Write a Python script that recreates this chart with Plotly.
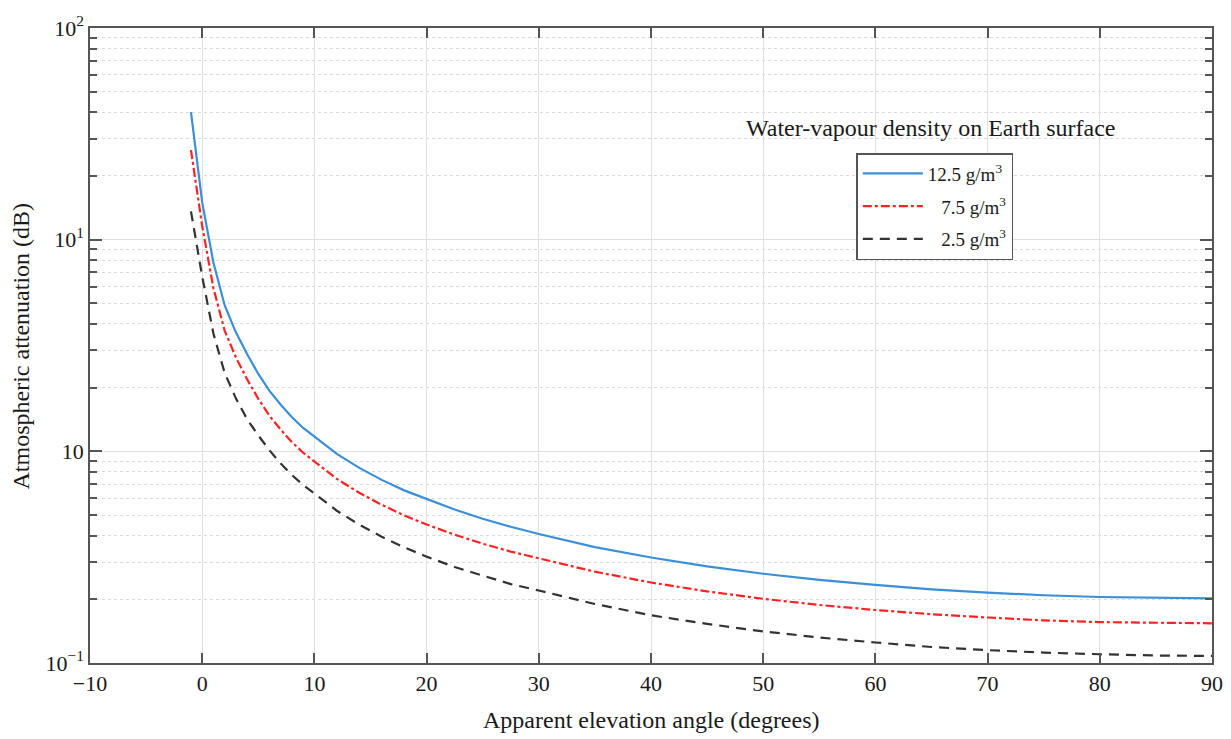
import plotly.graph_objects as go

# Apparent elevation angle (degrees)
angles = [-1, 0, 1, 2, 3, 4, 5, 6, 7, 8, 9, 10, 12, 14, 16, 18, 20, 22.5, 25, 27.5, 30,
          35, 40, 45, 50, 55, 60, 65, 70, 75, 80, 85, 90]

# Atmospheric attenuation (dB) for each water-vapour density
att_12_5 = [40.0, 15.0, 7.8, 4.9, 3.65, 2.88, 2.32, 1.93, 1.66, 1.45, 1.29, 1.17,
            0.972, 0.835, 0.733, 0.654, 0.596, 0.531, 0.480, 0.440, 0.407,
            0.353, 0.315, 0.286, 0.264, 0.247, 0.234, 0.223, 0.215, 0.209, 0.205, 0.203, 0.202]
att_7_5 = [26.5, 11.6, 5.9, 3.72, 2.78, 2.19, 1.77, 1.47, 1.265, 1.105, 0.985, 0.893,
           0.741, 0.637, 0.559, 0.498, 0.451, 0.404, 0.366, 0.336, 0.312,
           0.270, 0.240, 0.218, 0.201, 0.188, 0.178, 0.170, 0.164, 0.159, 0.156, 0.155, 0.154]
att_2_5 = [13.6, 6.7, 3.6, 2.35, 1.78, 1.42, 1.19, 1.01, 0.875, 0.772, 0.694, 0.63,
           0.524, 0.450, 0.395, 0.352, 0.318, 0.284, 0.258, 0.236, 0.220,
           0.190, 0.168, 0.153, 0.141, 0.132, 0.125, 0.119, 0.115, 0.112, 0.110, 0.1085, 0.108]

series_names = ["12.5 g/m<sup>3</sup>", "\u2007\u20097.5 g/m<sup>3</sup>", "\u2007\u20092.5 g/m<sup>3</sup>"]

x_ticks = [-10, 0, 10, 20, 30, 40, 50, 60, 70, 80, 90]
x_ticktext = ["\u221210", "0", "10", "20", "30", "40", "50", "60", "70", "80", "90"]
y_ticks = [0.1, 1, 10, 100]
y_ticktext = ["10<sup>\u22121</sup>", "10", "10<sup>1</sup>", "10<sup>2</sup>"]

FONT = "Liberation Serif, Times New Roman, serif"
TXT = "#1a1a1a"

fig = go.Figure()
fig.add_trace(go.Scatter(x=angles, y=att_12_5, mode="lines", name=series_names[0], legendgroup="a",
                         line=dict(color="#3a8fd8", width=2.2)))
fig.add_trace(go.Scatter(x=angles, y=att_7_5, mode="lines", name=series_names[1], legendgroup="b",
                         line=dict(color="#ff2222", width=2.2, dash="dashdot")))
fig.add_trace(go.Scatter(x=angles, y=att_2_5, mode="lines", name=series_names[2], legendgroup="c",
                         line=dict(color="#333333", width=2.2, dash="10px,7px")))

axis_common = dict(
    showline=True, linecolor="#555555", linewidth=1.5, mirror="allticks",
    ticks="inside", tickcolor="#555555", tickwidth=1.5,
    tickfont=dict(family=FONT, size=22, color=TXT),
    zeroline=False, automargin=False,
)

fig.update_xaxes(
    **axis_common,
    range=[-10, 90], tickvals=x_ticks, ticktext=x_ticktext, ticklen=10,
    showgrid=True, gridcolor="#e0e0e0", gridwidth=1.2,
)
fig.update_yaxes(
    **axis_common,
    type="log", range=[-1, 2], tickvals=y_ticks, ticktext=y_ticktext, ticklen=12,
    showgrid=True, gridcolor="#e0e0e0", gridwidth=1.2,
    minor=dict(dtick="D1", ticks="inside", ticklen=7, tickcolor="#555555", tickwidth=1.5,
               showgrid=True, gridcolor="#dadada", griddash="dot", gridwidth=1),
)

fig.add_annotation(x=0.5, y=-0.0898, xref="paper", yref="paper", xanchor="center", yanchor="middle",
                   text="Apparent elevation angle (degrees)", showarrow=False,
                   font=dict(family=FONT, size=24, color=TXT))
fig.add_annotation(x=-0.0615, y=0.5, xref="paper", yref="paper", xanchor="center", yanchor="middle",
                   text="Atmospheric attenuation (dB)", showarrow=False, textangle=-90,
                   font=dict(family=FONT, size=24, color=TXT))
fig.add_annotation(x=0.749, y=0.8425, xref="paper", yref="paper", xanchor="center", yanchor="middle",
                   text="Water-vapour density on Earth surface", showarrow=False,
                   font=dict(family=FONT, size=24, color=TXT))

# page body has an 8px margin: size the figure so the plot area lands where the reference has it
fig.update_layout(
    width=1223, height=731,
    margin=dict(l=82, r=19, t=20, b=76),
    paper_bgcolor="white", plot_bgcolor="white",
    showlegend=True,
    legend=dict(x=0.683, y=0.803, xanchor="left", yanchor="top",
                bgcolor="white", bordercolor="#555555", borderwidth=1.5,
                font=dict(family=FONT, size=19, color=TXT),
                tracegroupgap=5, itemwidth=60),
)

fig.write_html("out.html")
